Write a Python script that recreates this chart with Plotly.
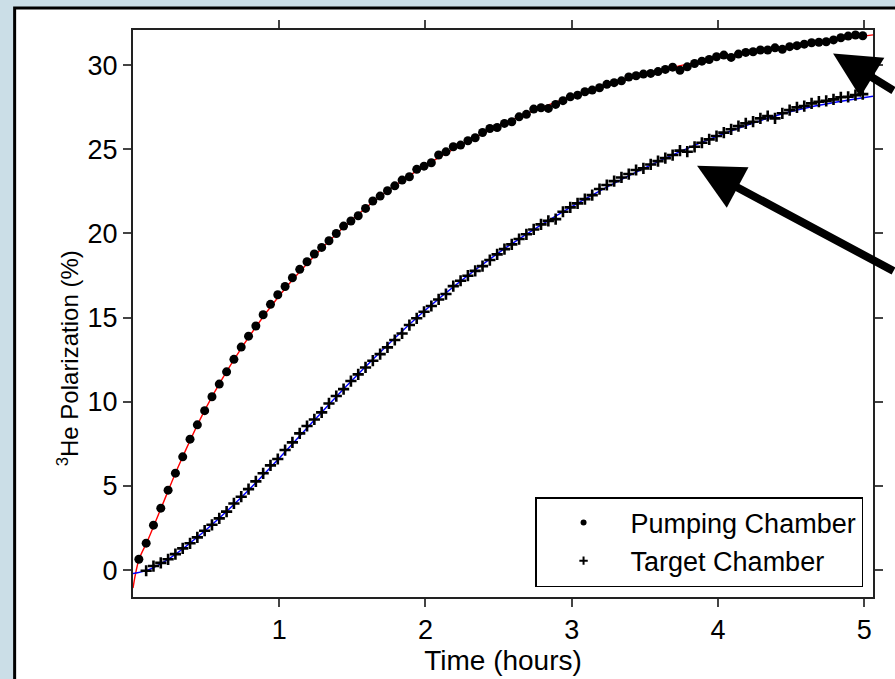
import plotly.graph_objects as go

# measurement times (hours)
t_pump = [0.04, 0.09, 0.14, 0.19, 0.24, 0.29, 0.34, 0.39, 0.44, 0.49,
          0.54, 0.59, 0.64, 0.69, 0.74, 0.79, 0.84, 0.89, 0.94, 0.99,
          1.04, 1.09, 1.14, 1.19, 1.24, 1.29, 1.34, 1.39, 1.44, 1.49,
          1.54, 1.59, 1.64, 1.69, 1.74, 1.79, 1.84, 1.89, 1.94, 1.99,
          2.04, 2.09, 2.14, 2.19, 2.24, 2.29, 2.34, 2.39, 2.44, 2.49,
          2.54, 2.59, 2.64, 2.69, 2.74, 2.79, 2.84, 2.89, 2.94, 2.99,
          3.04, 3.09, 3.14, 3.19, 3.24, 3.29, 3.34, 3.39, 3.44, 3.49,
          3.54, 3.59, 3.64, 3.69, 3.74, 3.79, 3.84, 3.89, 3.94, 3.99,
          4.04, 4.09, 4.14, 4.19, 4.24, 4.29, 4.34, 4.39, 4.44, 4.49,
          4.54, 4.59, 4.64, 4.69, 4.74, 4.79, 4.84, 4.89, 4.94, 4.99]
pol_pump = [0.64, 1.60, 2.67, 3.68, 4.75, 5.76, 6.73, 7.78, 8.63, 9.47,
            10.30, 11.05, 11.78, 12.52, 13.25, 13.90, 14.50, 15.17, 15.79, 16.36,
            16.85, 17.37, 17.87, 18.32, 18.78, 19.17, 19.57, 20.00, 20.44, 20.74,
            21.05, 21.49, 21.93, 22.22, 22.54, 22.83, 23.17, 23.37, 23.81, 24.00,
            24.20, 24.66, 24.85, 25.15, 25.25, 25.51, 25.69, 26.00, 26.24, 26.30,
            26.54, 26.64, 26.93, 27.08, 27.39, 27.47, 27.43, 27.67, 27.89, 28.12,
            28.22, 28.42, 28.52, 28.66, 28.86, 28.96, 29.07, 29.30, 29.37, 29.47,
            29.51, 29.62, 29.75, 29.88, 29.70, 29.90, 30.10, 30.24, 30.34, 30.50,
            30.60, 30.46, 30.66, 30.76, 30.80, 30.90, 30.90, 31.03, 30.94, 31.10,
            31.16, 31.25, 31.33, 31.36, 31.39, 31.50, 31.63, 31.73, 31.79, 31.75]

t_targ = t_pump[1:]
pol_targ = [-0.04, 0.24, 0.43, 0.64, 0.95, 1.29, 1.59, 1.94, 2.34,
            2.69, 3.07, 3.47, 3.96, 4.36, 4.81, 5.27, 5.75, 6.22, 6.60,
            7.13, 7.59, 8.12, 8.56, 8.95, 9.37, 9.90, 10.34, 10.75, 11.23,
            11.63, 12.04, 12.44, 12.83, 13.23, 13.67, 14.06, 14.56, 14.96, 15.35,
            15.69, 16.08, 16.40, 16.87, 17.19, 17.49, 17.78, 18.06, 18.42, 18.76,
            19.07, 19.35, 19.67, 19.95, 20.24, 20.54, 20.75, 20.85, 21.29, 21.55,
            21.79, 22.04, 22.28, 22.64, 22.88, 23.11, 23.33, 23.53, 23.77, 23.87,
            24.10, 24.30, 24.48, 24.66, 24.92, 24.86, 25.15, 25.39, 25.59, 25.79,
            25.99, 26.19, 26.38, 26.54, 26.64, 26.84, 26.98, 26.84, 27.14, 27.33,
            27.49, 27.57, 27.73, 27.83, 27.88, 27.97, 28.09, 28.12, 28.22, 28.28]

# fitted curves
fit_pump_t = [0, 0.04, 0.1, 0.2, 0.3, 0.5, 0.75, 1.0, 1.25, 1.5, 1.75, 2.0,
              2.5, 3.0, 3.5, 4.0, 4.5, 5.06]
fit_pump_p = [-1.07, 0.6, 1.75, 3.85, 5.95, 9.65, 13.3, 16.3, 18.75, 20.85, 22.6, 24.05,
              26.4, 28.15, 29.45, 30.45, 31.15, 31.8]
fit_targ_t = [0, 0.1, 0.25, 0.5, 0.75, 1.0, 1.25, 1.5, 2.0, 2.5, 3.0, 3.5, 4.0, 4.5, 5.06]
fit_targ_p = [-0.2, 0.0, 0.7, 2.4, 4.4, 6.65, 9.0, 11.3, 15.45, 18.85, 21.6, 23.9, 25.8,
              27.25, 28.15]

xticks = [1, 2, 3, 4, 5]
yticks = [0, 5, 10, 15, 20, 25, 30]

W, H = 895, 679
ml, mr, mt, mb = 133, 18, 30, 82
pw, ph = W - ml - mr, H - mt - mb

def px(x):
    return (x - ml) / pw

def py(y):
    return (H - mb - y) / ph

fnt = "Liberation Sans, Arial, sans-serif"
bg = "#cbdee7"

fig = go.Figure()
fig.add_trace(go.Scatter(x=fit_pump_t, y=fit_pump_p, mode="lines", line=dict(color="red", width=1.4, shape="spline"),
                         showlegend=False, hoverinfo="skip"))
fig.add_trace(go.Scatter(x=fit_targ_t, y=fit_targ_p, mode="lines", line=dict(color="blue", width=1.4, shape="spline"),
                         showlegend=False, hoverinfo="skip"))
fig.add_trace(go.Scatter(x=t_pump, y=pol_pump, mode="markers", showlegend=False,
                         marker=dict(symbol="circle", size=9, color="black")))
fig.add_trace(go.Scatter(x=t_targ, y=pol_targ, mode="markers", showlegend=False,
                         marker=dict(symbol="cross-thin", size=8, color="black",
                                     line=dict(color="black", width=2.6))))
# legend entries with smaller symbols
fig.add_trace(go.Scatter(x=[None], y=[None], mode="markers", name="Pumping Chamber",
                         marker=dict(symbol="circle", size=6, color="black")))
fig.add_trace(go.Scatter(x=[None], y=[None], mode="markers", name="Target Chamber",
                         marker=dict(symbol="cross-thin", size=6, color="black",
                                     line=dict(color="black", width=2))))

# arrows pointing at the two curves
fig.add_annotation(x=4.787, y=30.70, ax=120, ay=38, text="", showarrow=True,
                   arrowhead=2, arrowsize=1.15, arrowwidth=8, arrowcolor="black")
fig.add_annotation(x=3.857, y=24.02, ax=260, ay=106, text="", showarrow=True,
                   arrowhead=2, arrowsize=1.15, arrowwidth=8, arrowcolor="black")

# y title, sits a bit below the middle of the axis
fig.add_annotation(x=px(68), y=py(358), xref="paper", yref="paper", showarrow=False,
                   xanchor="center", yanchor="middle",
                   text="<sup>3</sup>He Polarization (%)", textangle=-90,
                   font=dict(family=fnt, size=24, color="black"))

# white slide panel behind the plot
fig.add_shape(type="rect", xref="paper", yref="paper", layer="below",
              x0=px(14), x1=px(905), y0=py(700), y1=py(8),
              fillcolor="white", line=dict(color="black", width=3))

axis_common = dict(showgrid=False, zeroline=False, showline=True, linecolor="#222",
                   linewidth=2, mirror="ticks", ticks="outside", ticklen=8,
                   tickcolor="#444", tickwidth=1.5,
                   tickfont=dict(family=fnt, size=27, color="black"))

fig.update_layout(
    width=W, height=H,
    margin=dict(l=ml, r=mr, t=mt, b=mb),
    paper_bgcolor=bg, plot_bgcolor="white",
    font=dict(family=fnt, color="black"),
    xaxis=dict(range=[0, 5.06], tickvals=xticks,
               title=dict(text="Time (hours)", font=dict(family=fnt, size=28), standoff=0),
               **axis_common),
    yaxis=dict(range=[-1.6, 32.09], tickvals=yticks, **axis_common),
    legend=dict(x=px(867), y=py(587), xanchor="right", yanchor="bottom",
                bgcolor="white", bordercolor="black", borderwidth=1.5,
                font=dict(family=fnt, size=27), itemwidth=84, tracegroupgap=0),
)

fig.write_html("out.html", config={"displayModeBar": False},
               post_script="document.body.style.margin='0px';document.body.style.background='%s';" % bg)
